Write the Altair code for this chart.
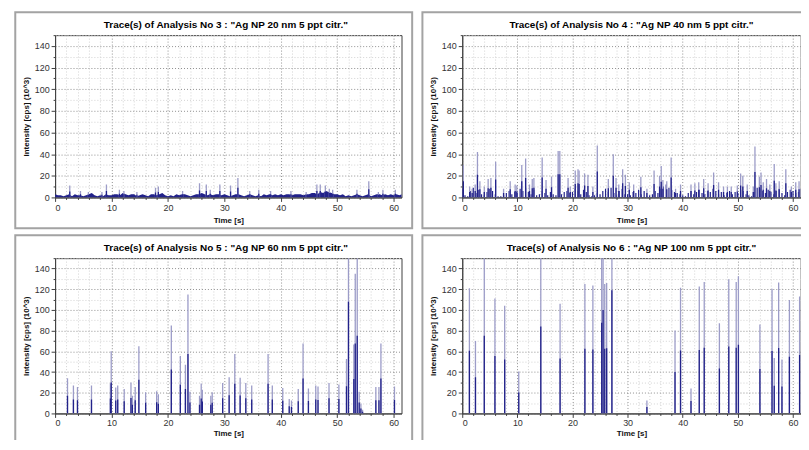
import altair as alt
import pandas as pd

# ---------------- data ----------------
TITLES = [
    'Trace(s) of Analysis No 3 : "Ag NP 20 nm 5 ppt citr."',
    'Trace(s) of Analysis No 4 : "Ag NP 40 nm 5 ppt citr."',
    'Trace(s) of Analysis No 5 : "Ag NP 60 nm 5 ppt citr."',
    'Trace(s) of Analysis No 6 : "Ag NP 100 nm 5 ppt citr."',
]
X_TITLE = "Time [s]"
Y_TITLE = "Intensity [cps] (10^3)"

# Analysis 3 (20 nm): spikes and baseline band (0.5 s samples)
p3_spike_t = [2.6, 4.5, 5.9, 8.3, 9.1, 11.4, 12.2, 14.5, 17.8, 18.3, 22.6, 25.6, 26.8,
              27.5, 29.2, 31.1, 32.4, 34.5, 36.1, 38.2, 41.8, 44.5, 46.4, 47.0, 47.9,
              48.6, 49.2, 53.5, 55.6, 57.3, 58.1, 60.3]
p3_spike_v = [11, 6, 5, 5, 12, 7, 6, 5, 9, 10, 6, 13, 12,
              7, 12, 11, 18, 6, 7, 6, 6, 5, 12, 12, 11,
              8, 7, 7, 15, 5, 7, 7]
p3_noise_v = [3, 2, 2, 1, 2, 3, 1, 3, 2, 2, 1, 2, 3, 4, 2, 1, 2, 1, 3, 2,
              2, 3, 3, 2, 4, 3, 2, 3, 3, 1, 2, 3, 2, 1, 3, 3, 2, 3, 4, 2,
              1, 2, 1, 3, 2, 3, 3, 2, 1, 2, 3, 3, 4, 3, 2, 3, 2, 3, 3, 2,
              3, 2, 1, 2, 3, 3, 2, 1, 2, 3, 2, 1, 2, 1, 3, 2, 3, 2, 3, 2,
              3, 2, 3, 3, 2, 3, 3, 3, 2, 3, 3, 4, 4, 3, 5, 4, 6, 5, 4, 3,
              3, 2, 3, 1, 2, 1, 2, 3, 2, 1, 2, 3, 1, 2, 3, 3, 2, 3, 2, 3,
              2, 3, 2, 3]

# Analysis 4 (40 nm)
p4_spike_t = [0.2, 1.35, 1.8, 2.35, 2.76, 3.2, 4.0, 4.7, 5.2, 6.06, 7.5, 8.7, 9.6, 9.9,
              10.8, 11.5, 12.2, 12.7, 13.0, 14.5, 15.2, 16.2, 17.4, 17.7, 19.2, 19.6,
              20.5, 21.0, 21.2, 22.2, 22.8, 23.7, 24.5, 26.5, 27.4, 27.9, 28.4, 29.1,
              29.6, 30.3, 31.1, 32.4, 33.5, 34.8, 35.8, 36.1, 36.4, 37.1, 37.9, 38.7,
              39.6, 41.5, 42.2, 42.9, 43.8, 44.6, 45.6, 46.5, 47.4, 48.1, 48.8, 49.9,
              50.5, 50.9, 51.7, 52.8, 53.1, 53.9, 54.2, 54.6, 55.2, 55.8, 56.6, 56.9,
              57.5, 58.7, 59.7, 60.5, 61.1]
p4_spike_v = [30, 10, 8, 12, 42, 15, 10, 17, 18, 33, 8, 15, 12, 11,
              30, 36, 12, 17, 18, 37, 16, 19, 43, 43, 18, 10,
              25, 26, 25, 22, 21, 10, 48, 17, 40, 18, 12, 26,
              21, 14, 12, 19, 8, 25, 20, 29, 16, 15, 37, 8,
              12, 12, 13, 14, 17, 13, 23, 14, 10, 10, 10, 11,
              22, 20, 12, 10, 47, 19, 23, 14, 17, 12, 31, 13,
              15, 26, 10, 14, 15]
p4_noise_v = [8, 2, 1, 6, 9, 4, 7, 3, 2, 5, 8, 6, 3, 1, 1, 2, 4, 6, 3, 5,
              4, 8, 6, 9, 5, 3, 7, 2, 3, 6, 4, 2, 5, 3, 2, 1, 3, 5, 6, 4,
              5, 8, 6, 3, 7, 5, 2, 1, 2, 4, 3, 6, 8, 5, 9, 4, 2, 6, 8, 3,
              3, 2, 5, 4, 7, 3, 6, 1, 2, 3, 6, 4, 8, 10, 12, 9, 7, 5, 4, 3,
              2, 1, 4, 6, 3, 5, 7, 4, 3, 6, 5, 8, 6, 3, 5, 2, 4, 6, 3, 5,
              4, 7, 6, 3, 2, 1, 5, 9, 8, 6, 4, 7, 5, 3, 6, 8, 4, 2, 5, 7,
              6, 4, 5, 8]

# Analysis 5 (60 nm)
p5_spike_t = [2.2, 3.25, 3.97, 6.45, 9.8, 9.95, 10.75, 11.1, 12.25, 13.45, 13.7, 14.2,
              14.85, 16.05, 18.0, 18.3, 20.6, 22.2, 23.1, 23.55, 23.9, 25.6, 25.9, 26.1,
              27.6, 27.85, 29.7, 30.85, 31.85, 32.8, 33.8, 34.85, 37.75, 38.5, 40.35,
              41.5, 41.9, 43.1, 43.95, 44.9, 46.2, 46.6, 48.55, 50.3, 51.65, 52.0,
              52.95, 53.2, 53.55, 53.9, 54.2, 54.5, 56.85, 57.4, 57.75, 60.15]
p5_spike_v = [34, 27, 25.5, 27, 29, 60, 25, 27, 23.5, 30, 17, 25.5,
              65, 20.5, 21.5, 18.5, 85, 55.5, 47, 115, 21, 17, 29, 23,
              17, 20.5, 29.5, 35, 57.5, 34.5, 29.5, 27, 57.5, 27, 24.5,
              14, 12.5, 23.5, 67.5, 24, 27, 26, 29.5, 28, 52.5, 216,
              66.5, 135, 150, 21, 9.5, 3.5, 25.5, 25.5, 67.5, 26]

# Analysis 6 (100 nm)
p6_spike_t = [1.3, 2.4, 4.0, 5.93, 7.7, 10.25, 14.25, 17.75, 22.25, 23.7, 25.3, 25.55,
              25.85, 26.2, 27.15, 33.5, 38.6, 39.6, 41.5, 43.0, 43.9, 46.65, 48.35,
              49.7, 50.1, 54.0, 56.2, 56.6, 57.4, 58.0, 59.35, 61.2]
p6_spike_v = [121, 70, 150, 111, 104, 40.5, 168, 106, 125, 123.5, 175, 200,
              125, 126, 238, 12.5, 80, 121.5, 24, 122.5, 127, 87, 129.5,
              127, 132.5, 86, 120.5, 53.5, 126.5, 52, 109.5, 113]

SAMPLE_STEP = 0.5  # s, baseline samples

# ---------------- styling ----------------
W_LEFT, W_RIGHT = 348, 340
H_TOP, H_BOT = 163, 156
X_MAX, Y_MAX = 61.4, 150
X_TICKS = list(range(0, 61, 2))
Y_TICKS = list(range(0, 151, 10))
DARK = "#22228a"
LIGHT = "#9c9cc8"
FRAME = "#a3a3a3"
FONT = "Liberation Sans"


def X(field, label_pad, title_pad):
    return alt.X(
        field, type="quantitative",
        scale=alt.Scale(domain=[0, X_MAX], nice=False, zero=False),
        axis=alt.Axis(
            values=X_TICKS, title=X_TITLE,
            labelExpr="datum.value % 10 === 0 ? datum.label : ''",
            labelPadding=label_pad, titlePadding=title_pad,
            grid=True, gridDash=[1, 2],
            gridColor={"condition": {"test": "datum.value % 10 === 0", "value": "#8f8f8f"},
                       "value": "#d2d2d2"},
            tickSize={"condition": {"test": "datum.value % 10 === 0", "value": 4},
                      "value": 2},
        ),
    )


def Y(field):
    return alt.Y(
        field, type="quantitative",
        scale=alt.Scale(domain=[0, Y_MAX], nice=False),
        axis=alt.Axis(
            values=Y_TICKS, title=Y_TITLE,
            labelExpr="datum.value % 20 === 0 && datum.value < 150 ? datum.label : ''",
            grid=True, gridDash=[1, 2],
            gridColor={"condition": {"test": "datum.value % 20 === 0", "value": "#8f8f8f"},
                       "value": "#d2d2d2"},
            tickSize={"condition": {"test": "datum.value % 20 === 0", "value": 4},
                      "value": 2},
        ),
    )


def panel(title, spike_t, spike_v, width, height, frame_bottom, label_pad, title_pad,
          title_x, noise_v=None, noise_kind=None):
    one = alt.Chart(pd.DataFrame({"k": [0]}))
    frame = one.mark_rect(fill="white", fillOpacity=0, stroke=FRAME, strokeWidth=2).encode(
        x=alt.value(-40), x2=alt.value(width + 10.7), y=alt.value(-23),
        y2=alt.value(height + frame_bottom)
    )
    ttl = one.mark_text(font=FONT, fontSize=10, fontWeight="bold", color="#000000",
                        baseline="middle", align="center").encode(
        x=alt.value(title_x), y=alt.value(-10), text=alt.value(title)
    )
    xe = lambda f: X(f, label_pad, title_pad)
    layers = [frame]
    df = pd.DataFrame({"t": spike_t, "v": spike_v})
    base = alt.Chart(df)
    light = base.mark_rule(color=LIGHT, strokeWidth=1.3, clip=True).encode(
        x=xe("t"), y=Y("v"), y2=alt.datum(0))
    dark = base.transform_calculate(h="datum.v / 2").mark_rule(
        color=DARK, strokeWidth=1.3, clip=True).encode(
        x=xe("t"), y=Y("h"), y2=alt.datum(0))
    if noise_v is not None:
        nt = [i * SAMPLE_STEP for i in range(len(noise_v))]
        ndf = pd.DataFrame({"t": nt, "v": noise_v})
        if noise_kind == "area":
            noise = alt.Chart(ndf).mark_area(color=DARK, clip=True, interpolate="linear").encode(
                x=xe("t"), y=Y("v"))
        else:
            noise = alt.Chart(ndf).mark_rule(color=DARK, strokeWidth=1.2, clip=True).encode(
                x=xe("t"), y=Y("v"), y2=alt.datum(0))
        layers.append(noise)
    layers += [light, dark, ttl]
    return alt.layer(*layers).properties(width=width, height=height)


p3 = panel(TITLES[0], p3_spike_t, p3_spike_v, W_LEFT, H_TOP, 31, 2, 4, 171.5,
           p3_noise_v, "area")
p4 = panel(TITLES[1], p4_spike_t, p4_spike_v, W_RIGHT, H_TOP, 31, 2, 4, 170,
           p4_noise_v, "rule")
p5 = panel(TITLES[2], p5_spike_t, p5_spike_v, W_LEFT, H_BOT, 32.5, 1, 2, 171.5)
p6 = panel(TITLES[3], p6_spike_t, p6_spike_v, W_RIGHT, H_BOT, 32.5, 1, 2, 170)

# the original screenshot is cropped at the right and bottom edges:
# negative right/bottom padding crops the drawing the same way
chart = alt.vconcat(
    alt.hconcat(p3, p4, spacing=6),
    alt.hconcat(p5, p6, spacing=6),
    spacing=3,
).properties(
    padding={"left": 5.3, "top": 1.3, "right": -12.7, "bottom": -8},
    background="white",
).configure_view(
    stroke="#404040", strokeWidth=1,
).configure_axis(
    labelFont=FONT, labelFontSize=9, labelColor="#333333",
    titleFont=FONT, titleFontSize=8, titleFontWeight="bold", titleColor="#111111",
    domainColor="#404040", tickColor="#404040",
)

chart.save("out.html", embed_options={"renderer": "svg", "actions": False})
